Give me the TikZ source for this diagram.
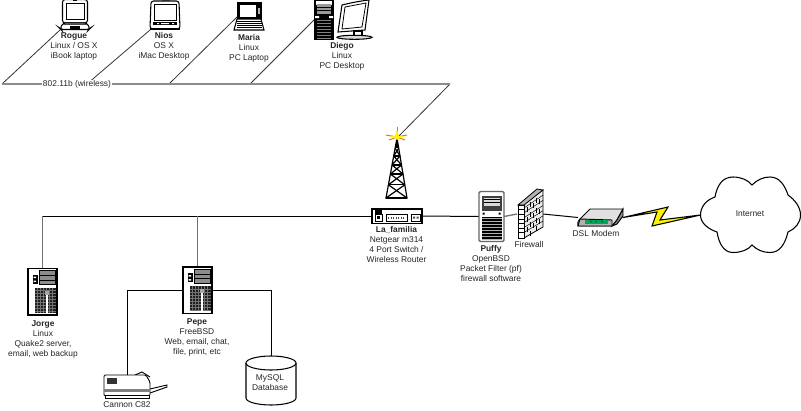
\documentclass[tikz,border=0pt]{standalone}
\usepackage{fontspec}
\usetikzlibrary{calc}
\setmainfont{Liberation Sans}
\def\px{0.75pt}
\tikzset{
  lbl/.style={font=\fontsize{6.3pt}{7.5pt}\selectfont, text=black!85, align=center, inner sep=0pt},
  wire/.style={draw=black, line width=0.75pt},
  gwire/.style={draw=black!55, line width=1pt},
  air/.style={draw=black!45, line width=1.6pt},
  diag/.style={draw=black!80, line width=0.6pt},
  dev/.style={inner sep=0pt, outer sep=0pt, draw=none},
  serverpic/.pic={
    \draw[fill=white, line width=0.8pt] (-14.5,-23) rectangle (14.5,23.5);
    \fill[black!45] (-3.5,-21) rectangle (13,-7);
    \draw[black, line width=0.7pt] (-3.5,-21) rectangle (13,-7) (-3.5,-16)--(13,-16) (-3.5,-11.5)--(13,-11.5);
    \fill[black] (-10,-17) rectangle (-5,-8);
    \fill[white] (-9,-15) rectangle (-6.5,-13.5) (-9,-11) rectangle (-6.5,-9.5);
    \fill[black!88] (-7.5,-4) rectangle (13,21);
    \foreach \yy in {-1,2,...,20} \draw[black!55, line width=0.2pt] (-7.5,\yy)--(13,\yy);
    \foreach \xx in {-5,-2,...,12} \draw[black!55, line width=0.2pt] (\xx,-4)--(\xx,21);
    \fill[white] (3.8,0) rectangle (5.2,21);
    \fill[black!35] (2.5,-1) rectangle (6,3);
  },
  puffypic/.pic={
    \draw[fill=white, draw=black!60, line width=1pt, rounded corners=1pt] (-12.5,-25) rectangle (12.5,25);
    \fill[black!75] (-10,-21) rectangle (10,-6);
    \fill[black!15] (-8,-19) rectangle (8,-11);
    \draw[black, line width=0.4pt] (-8,-17) -- (8,-17) (-8,-14) -- (8,-14);
    \fill[black] (-9,-4) rectangle (-7,-2) (7,-4) rectangle (9,-2);
    \fill[black] (-10,0) rectangle (10,23);
    \foreach \yy in {2,5,...,23} \draw[white!70!black, line width=0.25pt] (-10,\yy)--(10,\yy);
  }
}
\begin{document}
\begin{tikzpicture}[x=\px,y=-\px]
\useasboundingbox (0,0) rectangle (801,411);
\fill[white] (0,0) rectangle (801,411);

% device nodes
\node[dev, minimum width=30*\px, minimum height=30*\px] (rogue) at (75,15) {};
\node[dev, minimum width=30*\px, minimum height=30*\px] (nios) at (165,15) {};
\node[dev, minimum width=28*\px, minimum height=28*\px] (maria) at (249,16) {};
\node[dev, minimum width=20*\px, minimum height=40*\px] (diego) at (324,20) {};
\node[dev, minimum width=50*\px, minimum height=15*\px] (la) at (397,216) {};
\node[dev, minimum width=25*\px, minimum height=50*\px] (puffy) at (491.5,216.5) {};
\node[dev, minimum width=26*\px, minimum height=48*\px] (fw) at (530,214) {};
\node[dev, minimum width=45*\px, minimum height=17*\px] (modem) at (600.5,217.5) {};
\node[dev, minimum width=100*\px, minimum height=76*\px] (net) at (750.5,215) {};
\node[dev, minimum width=29*\px, minimum height=47*\px] (jorge) at (42.5,291.5) {};
\node[dev, minimum width=29*\px, minimum height=48*\px] (pepe) at (197.5,290) {};
\node[dev, minimum width=46*\px, minimum height=23*\px] (printer) at (127,386.5) {};
\node[dev, minimum width=50*\px, minimum height=49*\px] (db) at (271,380.5) {};

% bus coordinates
\coordinate (airL) at (2,84);
\coordinate (airR) at (450,84);
\coordinate (airN) at (87,84);
\coordinate (airM) at (169,84);
\coordinate (airD) at (250,84);
\coordinate (busJ) at (42.5,216);
\coordinate (busP) at (197.5,216);
\coordinate (antTop) at (397,138);

% connectors
\draw[diag] (airL) -- (rogue.south west);
\draw[diag] (airN) -- (nios.south west);
\draw[diag] (airM) -- (237,17);
\draw[diag] (airD) -- (diego.west);
\draw[diag] (airR) -- (antTop);
\draw[air] (airL) -- (airR);
\draw[wire] (la.west) -- (busJ);
\draw[gwire] (busJ) -- (jorge.north);
\draw[gwire] (busP) -- (pepe.north);
\draw[wire] (la.east) -- (puffy.west);
\draw[gwire] (puffy.east) -- (fw.west);
\draw[wire] (fw.east) -- (modem.west);
\draw[wire] (pepe.west) -| (printer.north);
\draw[wire] (pepe.east) -| (db.north);

% Laptop Rogue
\begin{scope}[shift={(rogue.center)}]
  \draw[fill=white, line width=0.8pt, rounded corners=2pt] (-12.5,-15.5) rectangle (12.5,8);
  \draw[line width=0.7pt] (-9,-12) rectangle (9,4.5);
  \fill[black] (-2,-15.5) rectangle (2,-14);
  \draw[fill=white, line width=0.8pt, rounded corners=2pt] (-15,13.5) -- (-12,8) -- (12,8) -- (15,13.5) -- (14,14.5) -- (-14,14.5) -- cycle;
  \fill[black] (-5,11) rectangle (5,14);
  \fill[black!70] (-12,9) rectangle (12,10);
\end{scope}
% iMac Nios
\begin{scope}[shift={(nios.center)}]
  \fill[black!45] (-3,-15) rectangle (5,-12);
  \draw[fill=white, line width=0.8pt, rounded corners=2pt] (-14,-14) -- (14,-14) -- (15,14) -- (-15,14) -- cycle;
  \draw[line width=0.7pt, fill=white] (-11,-11) rectangle (11,5);
  \fill[black] (-12,7) rectangle (12,10);
  \fill[white] (-8,8) rectangle (-6,9) (-4,8) rectangle (4,9) (7,8) rectangle (9,9);
  \draw[thick] (-15,14) -- (15,14);
\end{scope}
% Laptop Maria
\begin{scope}[shift={(maria.center)}]
  \draw[fill=black, line width=0.6pt] (-12,-14) rectangle (12,3);
  \fill[white] (-9.5,-11.5) rectangle (7,0.5);
  \fill[black!30] (9,-8) rectangle (11,-2);
  \draw[fill=white, line width=0.8pt] (-12,3) -- (12,3) -- (15,14) -- (-15,14) -- cycle;
  \foreach \yy in {5,7,9,11} \draw[line width=0.6pt] (-12.5,\yy) -- (12.5,\yy);
\end{scope}
% Diego tower and monitor
\begin{scope}[shift={(diego.center)}]
  \fill[black] (-10,-20) rectangle (10,19.5);
  \fill[white] (-8,-19) rectangle (8,-15);
  \fill[black!40] (-7,-16) rectangle (7,-6);
  \draw[black, line width=0.5pt] (-7,-13) -- (7,-13) (-7,-10) -- (7,-10);
  \fill[white] (-9,-4) rectangle (-5,-2) (5,-4) rectangle (9,-2);
  \foreach \yy in {0,3,...,18} \draw[black!50, line width=0.3pt] (-7,\yy) -- (7,\yy);
\end{scope}
\draw[fill=white, line width=0.8pt] (342,5) .. controls (350,3) and (360,1) .. (369,0) -- (365,30) -- (338,32) -- cycle;
\draw[line width=0.6pt] (345,7) -- (366,3) -- (362,27) -- (342,29) -- cycle;
\draw[line width=0.8pt, fill=white] (354,31) rectangle (362,37);
\draw[line width=0.8pt, fill=black!15] (354.5,37.3) ellipse [x radius=17.5, y radius=2];

% Antenna tower
\begin{scope}[line width=0.9pt]
  \draw (antTop) -- (386,198) -- (407,198) -- cycle;
  \foreach \a/\b in {0.17/0.3,0.3/0.45,0.45/0.6,0.6/0.78,0.78/1} {
    \draw ($(antTop)!\a!(386,198)$) -- ($(antTop)!\b!(407,198)$);
    \draw ($(antTop)!\a!(407,198)$) -- ($(antTop)!\b!(386,198)$);
    \draw ($(antTop)!\b!(386,198)$) -- ($(antTop)!\b!(407,198)$);
  }
  \draw[line width=2pt] (antTop) -- (397,148);
\end{scope}
\foreach \ex/\ey in {397/127, 386/135, 407/135, 389/140, 405/140} \draw[orange!90!black, line width=0.7pt] (397,137) -- (\ex,\ey);
\fill[yellow] (397,130) -- (399,136) -- (405,136) -- (399,138) -- (397,140) -- (395,138) -- (389,136) -- (395,136) -- cycle;

% Switch
\begin{scope}[shift={(la.center)}]
  \draw[fill=white, line width=0.9pt] (-25,-7.5) rectangle (25,7.5);
  \fill[black] (-25,-7.5) rectangle (25,-6.5);
  \fill[black] (-22,-6.5) rectangle (-15,-2);
  \draw[line width=0.6pt] (-22,-2) rectangle (-15,5);
  \fill[black] (-20,0) rectangle (-17,3);
  \draw[line width=0.6pt] (-11,-2) rectangle (10,5);
  \foreach \xx in {-9,-6.5,...,8} \fill[black!70] (\xx,0.5) rectangle +(1.4,2);
  \draw[line width=0.6pt] (14,-2) rectangle (23,5);
  \fill[black!70] (16,0.5) rectangle +(2,2) (19.5,0.5) rectangle +(2,2);
\end{scope}

% Puffy
\pic at (puffy.center) {puffypic};

% Firewall
\begin{scope}
  \draw[fill=black!8, line width=0.6pt] (524,203) -- (543,190) -- (543,227) -- (524,238) -- cycle;
  \draw[fill=white, line width=0.6pt] (518,205) -- (524,205) -- (524,238) -- (518,238) -- cycle;
  \draw[fill=black!30, line width=0.6pt] (518,205) -- (537,189) -- (543,190) -- (524,205) -- cycle;
  \foreach \t in {0.14,0.28,0.42,0.56,0.7,0.84} {
    \draw[line width=0.35pt] (524,{203+35*\t}) -- (543,{190+37*\t});
    \draw[line width=0.35pt] (518,{205+33*\t}) -- (524,{205+33*\t});
  }
  \foreach \xx/\yy in {530/202,536/198,530/212,536/208,530/222,536/218,530/231,536/226,527/207,533/203,539/199,527/217,533/213,539/209,527/227,533/223,539/219} \draw[line width=0.3pt] (\xx,\yy) -- +(0,5);
\end{scope}

% Modem
\begin{scope}[line width=0.7pt]
  \draw[fill=black!12] (578,226) .. controls (577,222) and (579,220) .. (580,219) -- (590,209) -- (623,209) -- (617,220) -- (612,226) -- cycle;
  \draw[fill=black!45] (612,226) -- (617,220) -- (623,209) -- (623,216) -- (617,224) -- cycle;
  \draw[fill=black!30] (580,219) -- (612,220) -- (612,226) -- (578,226) -- cycle;
  \fill[teal!70!green] (585,220) rectangle (608,224);
  \fill[red!80!black] (590,221) rectangle +(2,1.2) (595,221) rectangle +(2,1.2) (601,221) rectangle +(2,1.2);
\end{scope}

% Lightning
\draw[fill=yellow, line width=0.8pt, line join=miter] (modem.east) -- (668,207) -- (660,220) -- (net.west) -- (652,226) -- (657,212) -- cycle;

% Cloud
\draw[fill=white, line width=0.8pt] (700.5,215)
  .. controls (700.5,207) and (706,200) .. (715,197)
  .. controls (717,186) and (722,177) .. (733,177)
  .. controls (741,177) and (748,180) .. (752,185)
  .. controls (757,180) and (763,177) .. (770,177)
  .. controls (780,177) and (785,186) .. (788,195)
  .. controls (795,200) and (800.5,207) .. (800.5,215)
  .. controls (800.5,223) and (795,229) .. (788,232)
  .. controls (785,244) and (780,252.5) .. (770,252.5)
  .. controls (763,252.5) and (757,250) .. (752,245)
  .. controls (748,250) and (741,252.5) .. (733,252.5)
  .. controls (724,252.5) and (719,244) .. (717,232)
  .. controls (708,229) and (700.5,223) .. (700.5,215) -- cycle;
\node[lbl] (netlbl) at (750,214) {Internet};

% Jorge & Pepe
\pic at (jorge.center) {serverpic};
\pic at (pepe.center) {serverpic};

% Printer
\begin{scope}[line width=0.7pt]
  \draw (150,389) -- (167,385) -- (167,387) -- (150,393);
  \draw (135,375) -- (142,372) -- (150,377);
  \draw[fill=white, rounded corners=1pt] (104,375) -- (146,375) -- (150,382) -- (150,396) -- (104,396) -- cycle;
  \fill[black!80] (107,378) rectangle (117,384);
  \fill[black!50] (104,389) rectangle (150,392);
  \draw[fill=white] (105,395) rectangle (149,398);
\end{scope}

% Database
\draw[fill=white, line width=0.8pt] (246,363) -- (246,398) arc[start angle=180, end angle=360, x radius=25, y radius=-7] -- (296,363);
\draw[fill=white, line width=0.8pt] (271,363) ellipse [x radius=25, y radius=7];

% Labels
\node[lbl, fill=white, inner xsep=1pt] (airlbl) at (77,84) {802.11b (wireless)};
\node[lbl, anchor=north] (l1) at (74,32.5) {\textbf{Rogue}\\Linux / OS X\\iBook laptop};
\node[lbl, anchor=north] (l2) at (164,32.5) {\textbf{Nios}\\OS X\\iMac Desktop};
\node[lbl, anchor=north] (l3) at (249,34.5) {\textbf{Maria}\\Linux\\PC Laptop};
\node[lbl, anchor=north] (l4) at (342,42.5) {\textbf{Diego}\\Linux\\PC Desktop};
\node[lbl, anchor=north] (l5) at (396.5,226.5) {\textbf{La\_familia}\\Netgear m314\\4 Port Switch /\\Wireless Router};
\node[lbl, anchor=north] (l6) at (491,245.5) {\textbf{Puffy}\\OpenBSD\\Packet Filter (pf)\\firewall software};
\node[lbl] (l7) at (529,244) {Firewall};
\node[lbl] (l8) at (596,233) {DSL Modem};
\node[lbl, anchor=north] (l9) at (43,320.5) {\textbf{Jorge}\\Linux\\Quake2 server,\\email, web backup};
\node[lbl, anchor=north] (l10) at (197,318.5) {\textbf{Pepe}\\FreeBSD\\Web, email, chat,\\file, print, etc};
\node[lbl] (l11) at (127,405) {Cannon C82};
\node[lbl, align=center] (l12) at (270,383) {MySQL\\Database};
\end{tikzpicture}
\end{document}
